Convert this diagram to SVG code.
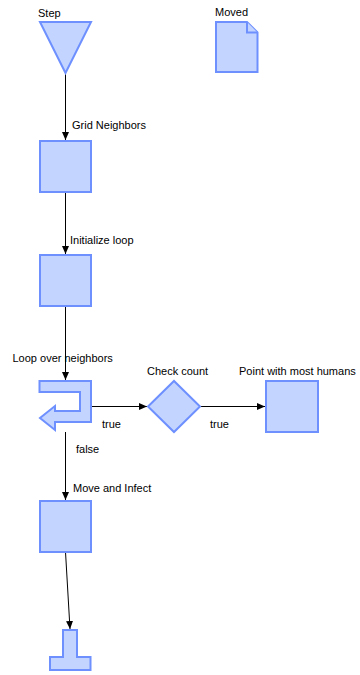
<svg xmlns="http://www.w3.org/2000/svg" width="360" height="675" viewBox="0 0 360 675">
<style>
.n{fill:#c3d5ff;stroke:#6e90ff;stroke-width:2;stroke-linejoin:miter}
.c{fill:none;stroke:#000;stroke-width:1}
.t{font-family:"Liberation Sans",Arial,sans-serif;font-size:11px;fill:#000}
</style>
<defs>
<marker id="ah" viewBox="0 0 8 8" refX="8" refY="4" markerWidth="8" markerHeight="8" markerUnits="userSpaceOnUse" orient="auto">
<path d="M0,0.5 L8,4 L0,7.5 Z" fill="#000"/>
</marker>
</defs>
<rect width="360" height="675" fill="#fff"/>
<g id="connectors">
<line class="c" x1="65.5" y1="73" x2="65.5" y2="140" marker-end="url(#ah)"/>
<line class="c" x1="65.5" y1="192" x2="65.5" y2="254" marker-end="url(#ah)"/>
<line class="c" x1="65.5" y1="306" x2="65.5" y2="380" marker-end="url(#ah)"/>
<line class="c" x1="91" y1="406.5" x2="147" y2="406.5" marker-end="url(#ah)"/>
<line class="c" x1="200" y1="406.5" x2="265" y2="406.5" marker-end="url(#ah)"/>
<line class="c" x1="65.5" y1="432" x2="65.5" y2="500" marker-end="url(#ah)"/>
<line class="c" x1="65.5" y1="552" x2="70" y2="629" stroke="#333" marker-end="url(#ah)"/>
<text class="t" x="72" y="129">Grid Neighbors</text>
<text class="t" x="70" y="244">Initialize loop</text>
<text class="t" x="102" y="428">true</text>
<text class="t" x="210" y="428">true</text>
<text class="t" x="76" y="453">false</text>
<text class="t" x="73" y="492">Move and Infect</text>
</g>
<g id="step">
<polygon class="n" points="40,22 91,22 65.5,73"/>
<text class="t" x="38" y="17">Step</text>
</g>
<g id="moved">
<polygon class="n" points="216,22 247,22 257.5,32.5 257.5,72 216,72"/>
<polyline class="n" points="247,22 247,32.5 257.5,32.5"/>
<text class="t" x="215" y="16">Moved</text>
</g>
<g id="grid-neighbors">
<rect class="n" x="40" y="141" width="51" height="51"/>
</g>
<g id="initialize-loop">
<rect class="n" x="40" y="255" width="51" height="51"/>
</g>
<g id="loop-over-neighbors">
<polygon class="n" points="39.5,381 91,381 91,422 55,422 55,430 40,418 55,406 55,411 80,411 80,392 39.5,392"/>
<text class="t" x="12.5" y="362">Loop over neighbors</text>
</g>
<g id="check-count">
<polygon class="n" points="148,406.5 174,381 200,406.5 174,432"/>
<text class="t" x="147" y="375">Check count</text>
</g>
<g id="point-with-most-humans">
<rect class="n" x="266" y="381" width="52" height="51"/>
<text class="t" x="239" y="375">Point with most humans</text>
</g>
<g id="move-and-infect">
<rect class="n" x="40" y="501" width="51" height="51"/>
</g>
<g id="end">
<polygon class="n" points="63,630 77,630 77,657 90.5,657 90.5,670 50,670 50,657 63,657"/>
</g>
</svg>
